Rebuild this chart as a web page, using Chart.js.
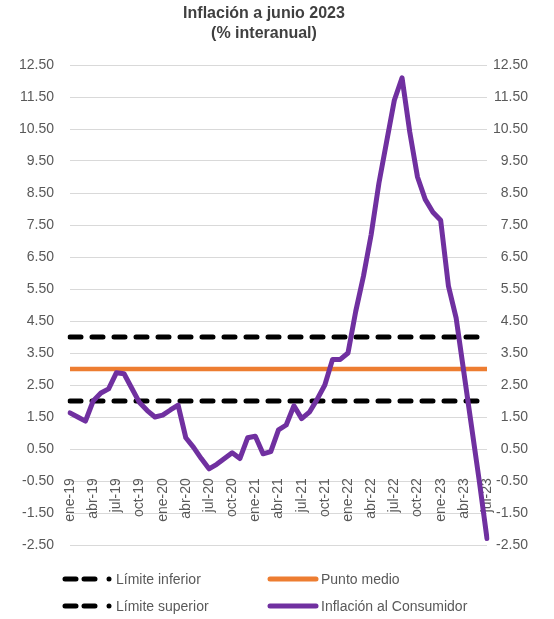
<!DOCTYPE html>
<html>
<head>
<meta charset="utf-8">
<script src="https://cdn.jsdelivr.net/npm/chart.js@4"></script>
<style>
  html, body { margin: 0; padding: 0; background: #fff; }
  #wrap { position: relative; width: 554px; height: 619px; }
  #chart { position: absolute; left: 0; top: 0; }
  .leg { position: absolute; font: 14px "Liberation Sans", Arial, sans-serif; color: #595959; display: flex; align-items: center; white-space: nowrap; }
  .leg svg { margin-right: 2px; }
</style>
</head>
<body>
<div id="wrap">
  <canvas id="chart" width="554" height="619"></canvas>
  <div class="leg" style="left:62px; top:571px;">
    <svg width="52" height="8"><line x1="3" y1="4" x2="38" y2="4" stroke="#000" stroke-width="5" stroke-linecap="round" stroke-dasharray="11 8"/><circle cx="47" cy="4" r="2.5" fill="#000"/></svg>Límite inferior
  </div>
  <div class="leg" style="left:267px; top:571px;">
    <svg width="52" height="8"><line x1="3" y1="4" x2="49" y2="4" stroke="#ed7d31" stroke-width="5" stroke-linecap="round"/></svg>Punto medio
  </div>
  <div class="leg" style="left:62px; top:598px;">
    <svg width="52" height="8"><line x1="3" y1="4" x2="38" y2="4" stroke="#000" stroke-width="5" stroke-linecap="round" stroke-dasharray="11 8"/><circle cx="47" cy="4" r="2.5" fill="#000"/></svg>Límite superior
  </div>
  <div class="leg" style="left:267px; top:598px;">
    <svg width="52" height="8"><line x1="3" y1="4" x2="49" y2="4" stroke="#7030a0" stroke-width="5" stroke-linecap="round"/></svg>Inflación al Consumidor
  </div>
</div>
<script>
    const meses = [
        "ene-19", "feb-19", "mar-19", "abr-19", "may-19", "jun-19", "jul-19", "ago-19", "sep-19", "oct-19", "nov-19", "dic-19",
        "ene-20", "feb-20", "mar-20", "abr-20", "may-20", "jun-20", "jul-20", "ago-20", "sep-20", "oct-20", "nov-20", "dic-20",
        "ene-21", "feb-21", "mar-21", "abr-21", "may-21", "jun-21", "jul-21", "ago-21", "sep-21", "oct-21", "nov-21", "dic-21",
        "ene-22", "feb-22", "mar-22", "abr-22", "may-22", "jun-22", "jul-22", "ago-22", "sep-22", "oct-22", "nov-22", "dic-22",
        "ene-23", "feb-23", "mar-23", "abr-23", "may-23", "jun-23", "jul-23"
    ];

    const inflacion = [
        1.63, 1.50, 1.37, 2.00, 2.25, 2.38, 2.88, 2.85, 2.40, 1.95, 1.70, 1.50,
        1.56, 1.72, 1.87, 0.85, 0.55, 0.20, -0.12, 0.02, 0.20, 0.38, 0.20, 0.85,
        0.90, 0.35, 0.42, 1.10, 1.25, 1.85, 1.45, 1.65, 2.05, 2.50, 3.30, 3.30,
        3.50, 4.80, 5.90, 7.20, 8.80, 10.10, 11.40, 12.10, 10.40, 9.00, 8.30, 7.90,
        7.65, 5.60, 4.60, 2.90, 1.20, -0.50, -2.30
    ];

    const limiteInferior = 2;
    const puntoMedio = 3;
    const limiteSuperior = 4;

    const yTicks = { min: -2.5, max: 12.5, step: 1 };

    const flat = (v) => meses.map(() => v);
    const font = { family: "'Liberation Sans', Arial, sans-serif", size: 14 };

    new Chart(document.getElementById("chart"), {
        type: "line",
        data: {
            labels: meses,
            datasets: [
                { label: "Inflación al Consumidor", data: inflacion, borderColor: "#7030a0", borderWidth: 5, borderJoinStyle: "round", borderCapStyle: "round" },
                { label: "Punto medio", data: flat(puntoMedio), borderColor: "#ed7d31", borderWidth: 4.5 },
                { label: "Límite superior", data: flat(limiteSuperior), borderColor: "#000", borderWidth: 5, borderDash: [11, 11], borderCapStyle: "round" },
                { label: "Límite inferior", data: flat(limiteInferior), borderColor: "#000", borderWidth: 5, borderDash: [11, 11], borderCapStyle: "round" }
            ]
        },
        options: {
            responsive: false,
            animation: false,
            elements: { point: { radius: 0 }, line: { tension: 0 } },
            layout: { padding: { left: 0, right: 26, top: 0, bottom: 74 } },
            plugins: {
                legend: { display: false },
                tooltip: { enabled: false },
                title: {
                    display: true,
                    text: ["Inflación a junio 2023", "(% interanual)"],
                    color: "#404040",
                    font: { family: font.family, size: 16, weight: "bold", lineHeight: 1.25 },
                    padding: { top: 4, bottom: 21 }
                }
            },
            scales: {
                x: {
                    position: { y: -0.35 },
                    grid: { display: false, drawTicks: false },
                    border: { display: false },
                    ticks: {
                        autoSkip: false,
                        minRotation: 90,
                        maxRotation: 90,
                        padding: 2,
                        color: "#595959",
                        font: font,
                        callback: (v, i) => (i % 3 === 0 ? meses[i] : "")
                    }
                },
                y: {
                    position: "left",
                    min: yTicks.min,
                    max: yTicks.max,
                    afterFit: (s) => { s.width = 70; },
                    grid: { color: "#d9d9d9", lineWidth: 1, drawTicks: false },
                    border: { display: false },
                    ticks: { stepSize: yTicks.step, padding: 16, color: "#595959", font: font, callback: (v) => Number(v).toFixed(2) }
                },
                y2: {
                    position: "right",
                    min: yTicks.min,
                    max: yTicks.max,
                    afterFit: (s) => { s.width = 41; },
                    grid: { display: false, drawTicks: false },
                    border: { display: false },
                    ticks: { stepSize: yTicks.step, padding: 7, crossAlign: "far", color: "#595959", font: font, callback: (v) => Number(v).toFixed(2) }
                }
            }
        }
    });
</script>
</body>
</html>
